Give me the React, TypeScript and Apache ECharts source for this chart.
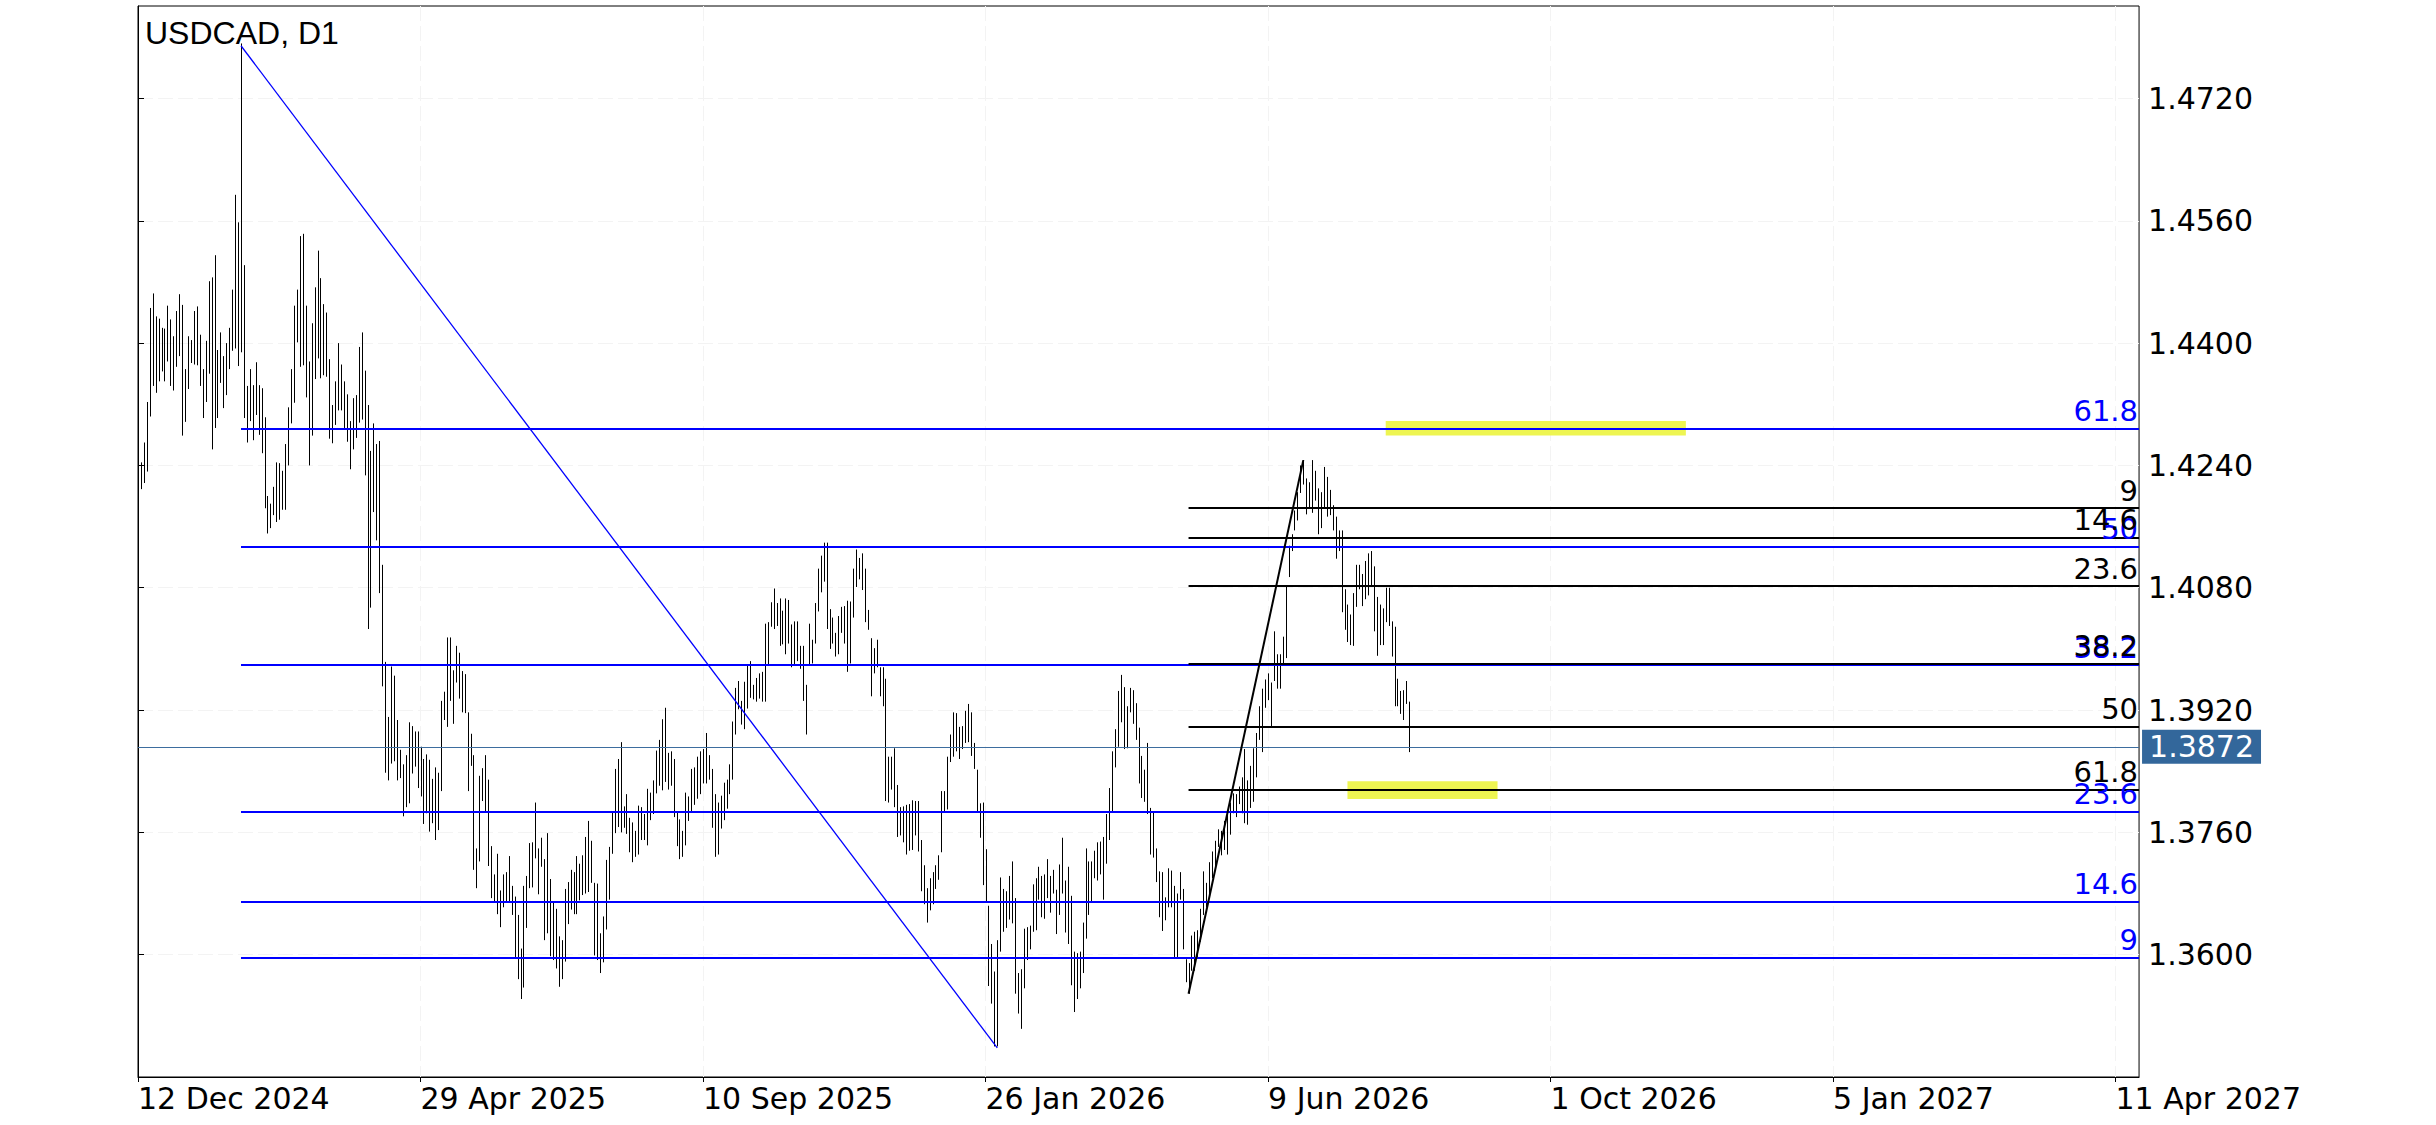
import React, { useEffect, useRef } from 'react';
import * as echarts from 'echarts';

// ---- data (prices in 1/10000 units, bar index 1 = first visible daily bar after 12 Dec 2024) ----
const FIRST_BAR = 1;
const barHigh: number[] = [
  14244,14270,14323,14446,14465,14435,14432,14420,14419,14449,14431,14409,
  14442,14464,14450,14366,14409,14404,14442,14448,14411,14366,14403,14481,
  14486,14515,14391,14414,14383,14400,14420,14470,14594,14558,14792,14502,
  14344,14366,14345,14375,14345,14341,14303,14200,14190,14212,14244,14243,
  14233,14268,14316,14366,14449,14470,14540,14543,14449,14376,14426,14473,
  14521,14485,14451,14440,14379,14319,14350,14400,14372,14350,14333,14298,
  14328,14332,14395,14414,14364,14319,14259,14295,14268,14272,14110,13983,
  13911,13977,13965,13907,13868,13849,13861,13904,13899,13892,13892,13872,
  13856,13862,13855,13830,13845,13838,13932,13944,14015,14015,13972,14004,
  13995,13971,13967,13917,13889,13861,13739,13834,13844,13861,13829,13742,
  13705,13732,13684,13705,13708,13729,13690,13676,13652,13608,13690,13703,
  13746,13747,13799,13739,13753,13725,13759,13699,13668,13660,13624,13619,
  13686,13695,13711,13708,13729,13719,13730,13754,13775,13749,13694,13693,
  13628,13650,13724,13741,13787,13843,13856,13878,13794,13810,13779,13773,
  13762,13795,13793,13784,13817,13812,13828,13867,13881,13908,13923,13864,
  13866,13856,13787,13777,13762,13812,13807,13843,13845,13859,13866,13869,
  13890,13861,13843,13810,13799,13808,13825,13829,13849,13905,13949,13958,
  13932,13957,13980,13984,13953,13962,13968,13970,14033,14035,14061,14079,
  14060,14066,14050,14066,14064,14032,14036,14036,14004,14004,13953,14033,
  14012,14060,14105,14122,14139,14139,14052,14041,14021,14043,14055,14056,
  14063,14062,14105,14130,14119,14125,14105,14051,14014,14001,14012,13976,
  13976,13961,13859,13859,13870,13822,13793,13794,13796,13797,13802,13801,
  13801,13750,13717,13687,13700,13708,13717,13730,13814,13814,13859,13888,
  13917,13916,13898,13899,13919,13928,13917,13877,13842,13798,13799,13738,
  13664,13614,13578,13619,13701,13686,13683,13703,13722,13674,13576,13581,
  13634,13636,13638,13692,13700,13715,13703,13705,13725,13703,13711,13685,
  13718,13753,13697,13715,13677,13604,13602,13604,13642,13739,13722,13722,
  13736,13747,13748,13754,13784,13818,13866,13895,13945,13966,13950,13925,
  13949,13946,13929,13897,13860,13842,13877,13792,13787,13739,13709,13708,
  13675,13713,13710,13690,13680,13708,13686,13594,13589,13625,13630,13632,
  13660,13709,13694,13721,13735,13749,13764,13762,13775,13784,13799,13811,
  13810,13820,13832,13869,13828,13847,13870,13890,13925,13948,13960,13968,
  13956,14023,13993,13993,14016,14083,14135,14150,14181,14205,14240,14247,
  14223,14218,14247,14233,14210,14205,14238,14225,14208,14188,14173,14155,
  14155,14078,14058,14045,14073,14110,14110,14098,14115,14125,14128,14108,
  14068,14058,14053,14080,14080,14036,14029,13961,13945,13946,13958,13931,
];
const barLow: number[] = [
  14209,14217,14232,14304,14344,14335,14350,14363,14350,14376,14344,14338,
  14369,14383,14279,14297,14340,14374,14372,14371,14344,14302,14323,14360,
  14261,14289,14302,14348,14315,14332,14366,14390,14393,14370,14388,14302,
  14270,14298,14273,14306,14280,14256,14184,14151,14158,14175,14166,14169,
  14182,14182,14240,14295,14322,14401,14369,14371,14329,14240,14279,14353,
  14380,14354,14358,14356,14275,14269,14293,14312,14312,14289,14271,14235,
  14261,14276,14296,14300,14227,14026,14054,14179,14142,14073,13951,13838,
  13828,13850,13853,13828,13831,13781,13793,13798,13837,13846,13818,13807,
  13771,13785,13761,13772,13750,13763,13814,13907,13898,13932,13902,13956,
  13935,13917,13916,13814,13847,13711,13687,13722,13801,13787,13716,13674,
  13669,13653,13636,13662,13670,13669,13652,13597,13568,13542,13557,13635,
  13687,13688,13726,13679,13715,13619,13628,13598,13593,13582,13558,13568,
  13591,13640,13659,13653,13653,13671,13678,13680,13682,13694,13599,13593,
  13576,13590,13633,13672,13732,13759,13767,13760,13766,13758,13734,13721,
  13728,13731,13750,13750,13743,13776,13784,13811,13821,13815,13826,13816,
  13821,13780,13742,13725,13728,13743,13775,13788,13796,13804,13810,13824,
  13824,13829,13766,13728,13731,13765,13776,13791,13810,13829,13888,13921,
  13901,13895,13922,13936,13934,13931,13935,13931,13931,13979,14029,14026,
  14030,14004,14006,13993,14007,13976,13980,13984,13974,13932,13888,13979,
  13981,14007,14049,14074,14088,14026,14000,14007,13990,13993,14021,14007,
  13970,13981,14041,14081,14091,14077,14035,14025,13938,13968,13976,13938,
  13925,13801,13799,13816,13793,13754,13756,13747,13731,13736,13737,13756,
  13735,13683,13666,13642,13658,13666,13686,13698,13734,13787,13790,13852,
  13859,13866,13856,13869,13877,13878,13860,13843,13786,13753,13691,13670,
  13559,13536,13480,13480,13604,13630,13635,13646,13641,13549,13523,13503,
  13556,13593,13607,13630,13632,13672,13649,13647,13674,13655,13680,13627,
  13652,13680,13629,13614,13560,13525,13542,13556,13576,13621,13652,13670,
  13700,13697,13705,13672,13719,13750,13787,13845,13872,13904,13869,13870,
  13917,13902,13881,13824,13805,13800,13784,13731,13727,13695,13649,13631,
  13645,13662,13662,13597,13597,13672,13607,13564,13549,13579,13579,13597,
  13617,13652,13662,13677,13700,13715,13741,13730,13737,13731,13757,13785,
  13780,13797,13785,13772,13770,13792,13800,13832,13881,13865,13923,13933,
  13899,13958,13948,13948,13980,13988,14094,14128,14155,14168,14204,14215,
  14176,14183,14178,14194,14150,14158,14185,14173,14175,14155,14118,14128,
  14048,14025,14009,14005,14004,14055,14078,14056,14065,14070,14083,14023,
  13991,14005,14005,14035,14030,13990,13925,13925,13915,13907,13928,13865,
];

const X_MAX_BAR = 680;
const xTickBars = [0, 96, 192, 288, 384, 480, 576, 672];
const xTickLabels = ['12 Dec 2024', '29 Apr 2025', '10 Sep 2025', '26 Jan 2026', '9 Jun 2026', '1 Oct 2026', '5 Jan 2027', '11 Apr 2027'];
const yTickValues = [1.36, 1.376, 1.392, 1.408, 1.424, 1.44, 1.456, 1.472];
const Y_MIN = 1.344;
const Y_MAX = 1.4841;

const fibLevels = [9, 14.6, 23.6, 38.2, 50, 61.8];
// blue fibo: from high bar to low bar, levels measured up from the low
const blueFibBars = [35, 292];
const blueFibPrices = [1.4789, 1.3478];
// black fibo: from low bar to high bar, levels measured down from the high
const blackFibBars = [357, 396];
const blackFibPrices = [1.3549, 1.4247];
const currentPrice = 1.3872;
const zoneUpperBars = [424, 526];
const zoneUpperPrices = [1.42982, 1.4279];
const zoneLowerBars = [411, 462];
const zoneLowerPrices = [1.3827, 1.38037];

const FONT = 'DejaVu Sans';

export default function App() {
  const ref = useRef<HTMLDivElement>(null);
  useEffect(() => {
    if (!ref.current) return;
    const chart = echarts.init(ref.current, undefined, { renderer: 'svg' });

    const bars = barHigh.map((h, k) => [FIRST_BAR + k, barLow[k] / 10000, h / 10000]);

    const [bHigh, bLow] = blueFibPrices;
    const blueLines: any[] = fibLevels.map((r) => {
      const p = bLow + (r / 100) * (bHigh - bLow);
      return [
        { name: String(r), coord: [blueFibBars[0], p] },
        { coord: [X_MAX_BAR, p] },
      ];
    });
    blueLines.push([
      { coord: [blueFibBars[0], bHigh], label: { show: false }, lineStyle: { width: 1.3 } },
      { coord: [blueFibBars[1], bLow] },
    ]);

    const [kLow, kHigh] = blackFibPrices;
    const blackLines: any[] = fibLevels.map((r) => {
      const p = kHigh - (r / 100) * (kHigh - kLow);
      return [
        { name: String(r), coord: [blackFibBars[0], p] },
        { coord: [X_MAX_BAR, p] },
      ];
    });
    blackLines.push([
      { coord: [blackFibBars[0], kLow], label: { show: false } },
      { coord: [blackFibBars[1], kHigh] },
    ]);

    const levelLabel = (color: string) => ({
      show: true,
      position: 'insideEndTop',
      formatter: '{b}',
      color,
      fontFamily: FONT,
      fontSize: 29,
      distance: [1, 3],
    });

    const option: any = {
      animation: false,
      backgroundColor: '#ffffff',
      textStyle: { fontFamily: FONT },
      grid: {
        left: 138, top: 6, width: 2040, height: 1071,
        show: true, borderColor: '#000', borderWidth: 1, backgroundColor: '#ffffff',
      },
      graphic: [
        {
          type: 'text', left: 145, top: 17, z: 100,
          style: { text: 'USDCAD, D1', fill: '#000', font: '32px "Liberation Sans", Arial, sans-serif' },
        },
      ],
      xAxis: {
        type: 'value', min: 0, max: X_MAX_BAR, interval: 48, position: 'bottom',
        axisLine: { show: true, onZero: false, lineStyle: { color: '#000', width: 1 } },
        axisTick: { show: true, length: 5, customValues: xTickBars, lineStyle: { color: '#000' } },
        axisLabel: {
          show: true, customValues: xTickBars, align: 'left', margin: 6,
          color: '#000', fontFamily: FONT, fontSize: 30,
          formatter: (v: number) => xTickLabels[xTickBars.indexOf(Math.round(v))] ?? '',
        },
        splitLine: { show: true, lineStyle: { color: '#f3f3f3', type: [15, 5], width: 1 } },
      },
      yAxis: {
        type: 'value', min: Y_MIN, max: Y_MAX, interval: 0.016, position: 'right', scale: true,
        axisLine: { show: true, lineStyle: { color: '#000', width: 1 } },
        axisTick: { show: true, length: 6, customValues: yTickValues, lineStyle: { color: '#000' } },
        axisLabel: {
          show: true, customValues: yTickValues, margin: 9, color: '#000',
          fontFamily: FONT, fontSize: 30, formatter: (v: number) => v.toFixed(4),
        },
        splitLine: { show: true, lineStyle: { color: '#f3f3f3', type: [15, 5], width: 1 } },
      },
      series: [
        {
          type: 'custom', name: 'bars', z: 2, silent: true, clip: true,
          encode: { x: 0, y: [1, 2] },
          data: bars,
          renderItem: (params: any, api: any) => {
            const bar = api.value(0);
            const lo = api.coord([bar, api.value(1)]);
            const hi = api.coord([bar, api.value(2)]);
            const x = Math.round(lo[0]) + 0.5;
            return {
              type: 'line',
              shape: { x1: x, y1: lo[1], x2: x, y2: hi[1] },
              style: { stroke: '#000', lineWidth: 1 },
            };
          },
        },
        {
          type: 'line', name: 'zones', z: 1, silent: true, symbol: 'none',
          data: [[0, currentPrice]], lineStyle: { opacity: 0 },
          markArea: {
            silent: true,
            itemStyle: { color: '#eef552', opacity: 1 },
            data: [
              [{ coord: [zoneUpperBars[0], zoneUpperPrices[0]] }, { coord: [zoneUpperBars[1], zoneUpperPrices[1]] }],
              [{ coord: [zoneLowerBars[0], zoneLowerPrices[0]] }, { coord: [zoneLowerBars[1], zoneLowerPrices[1]] }],
            ],
          },
        },
        {
          type: 'line', name: 'price', z: 3, silent: true, symbol: 'none',
          data: [[0, currentPrice]], lineStyle: { opacity: 0 },
          markLine: {
            silent: true, symbol: ['none', 'none'], animation: false, precision: 6,
            lineStyle: { color: '#3d6d9e', width: 1, type: 'solid' },
            label: {
              show: true, position: 'end', distance: 3,
              formatter: () => currentPrice.toFixed(4),
              color: '#ffffff', backgroundColor: '#33679b',
              fontFamily: FONT, fontSize: 30, lineHeight: 30, padding: [2, 7, 2, 7],
            },
            data: [{ yAxis: currentPrice }],
          },
        },
        {
          type: 'line', name: 'blueFib', z: 4, silent: true, symbol: 'none',
          data: [[0, currentPrice]], lineStyle: { opacity: 0 },
          markLine: {
            silent: true, symbol: ['none', 'none'], animation: false, precision: 6,
            lineStyle: { color: '#0000ff', width: 2, type: 'solid' },
            label: levelLabel('#0000ff'),
            data: blueLines,
          },
        },
        {
          type: 'line', name: 'blackFib', z: 5, silent: true, symbol: 'none',
          data: [[0, currentPrice]], lineStyle: { opacity: 0 },
          markLine: {
            silent: true, symbol: ['none', 'none'], animation: false, precision: 6,
            lineStyle: { color: '#000000', width: 2, type: 'solid' },
            label: levelLabel('#000000'),
            data: blackLines,
          },
        },
      ],
    };
    chart.setOption(option);
    return () => chart.dispose();
  }, []);

  return (
    <div
      ref={ref}
      style={{ position: 'absolute', left: 0, top: 0, width: 2304, height: 1125, background: '#fff', overflow: 'hidden' }}
    />
  );
}
